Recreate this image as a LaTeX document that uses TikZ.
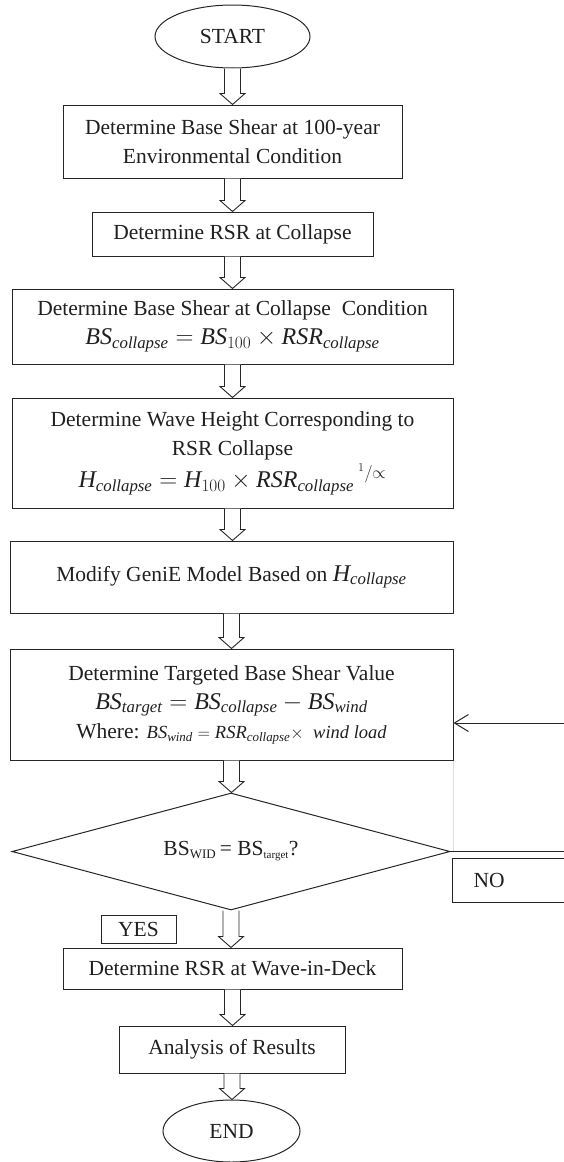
\documentclass[tikz,border=0pt]{standalone}
\usepackage{fontspec}
\setmainfont{Liberation Serif}
\usetikzlibrary{shapes.geometric,arrows.meta,calc}
\newcommand{\mt}[1]{\mathit{#1}}
\newcommand{\fbig}{\fontsize{24}{29}\selectfont}
\begin{document}
\begin{tikzpicture}[x=1pt,y=1pt,
  every node/.style={font=\fontsize{21.5}{29}\selectfont, text=black!88},
  boxnode/.style={draw=black!85, line width=1pt, rectangle, inner sep=0pt, align=center},
  ellnode/.style={draw=black!85, line width=1pt, ellipse, inner sep=0pt},
  decnode/.style={draw=black!85, line width=1pt, diamond, aspect=3.74, inner sep=0pt},
  blk/.style={draw=black!85, line width=0.9pt, fill=white, line join=miter,
    to path={let \p1=(\tikztostart), \p2=(\tikztotarget) in
      (\x1-8pt,\y1) -- (\x1-8pt,\y2+11pt) -- (\x1-12.5pt,\y2+11pt) -- (\x1,\y2)
      -- (\x1+12.5pt,\y2+11pt) -- (\x1+8pt,\y2+11pt) -- (\x1+8pt,\y1)}},
  fb/.style={draw=black!85, line width=1pt, -{Straight Barb[length=14pt,width=17pt,line width=1pt]}}
]
\useasboundingbox (0,0) rectangle (563,-1162);

\node[ellnode, minimum width=155pt, minimum height=63pt] (start) at (232.5,-36.5) {START};
\node[boxnode, minimum width=339pt, minimum height=73pt] (b1) at (232.5,-141.5)
  {Determine Base Shear at 100-year\\ Environmental Condition};
\node[boxnode, minimum width=281pt, minimum height=44pt] (b2) at (232.5,-234)
  {Determine RSR at Collapse};
\node[boxnode, minimum width=441pt, minimum height=75pt] (b3) at (232.5,-326.5)
  {Determine Base Shear at Collapse\ \ Condition\\
   {\fbig$\mt{BS}_{\mt{collapse}} = \mt{BS}_{100}\times \mt{RSR}_{\mt{collapse}}$}};
\node[boxnode, minimum width=441pt, minimum height=110pt] (b4) at (232.5,-453)
  {Determine Wave Height Corresponding to\\ RSR Collapse\\[3pt]
   {\fbig$\mt{H}_{\mt{collapse}} = \mt{H}_{100}\times {\mt{RSR}_{\mt{collapse}}\,}^{{}^{1}/\propto}$}};
\node[boxnode, minimum width=443pt, minimum height=72pt] (b5) at (231.5,-577)
  {\raisebox{7pt}{Modify GeniE Model Based on {\fbig$\mt{H}_{\mt{collapse}}$}}};
\node[boxnode, minimum width=443pt, minimum height=111pt] (b6) at (231.5,-704.5)
  {Determine Targeted Base Shear Value\\
   {\fbig$\mt{BS}_{\mt{target}} = \mt{BS}_{\mt{collapse}} - \mt{BS}_{\mt{wind}}$}\\
   Where: {\fontsize{18.5}{20}\selectfont $\mt{BS}_{\mt{wind}} = \mt{RSR}_{\mt{collapse}}\times$ \textit{ wind load}}};
\node[decnode, minimum width=438pt, minimum height=117pt] (dec) at (231,-851.5)
  {BS\textsubscript{\fontsize{13}{13}\selectfont WID}\,= BS\textsubscript{\fontsize{11}{11}\selectfont target}?};
\node[boxnode, anchor=west, minimum width=130pt, minimum height=44pt, text width=88pt,
  inner xsep=21pt, align=left] (no) at (452,-880) {NO};
\node[boxnode, minimum width=75pt, minimum height=28pt] (yes) at (138.5,-929) {YES};
\node[boxnode, minimum width=339pt, minimum height=41pt] (b7) at (232.5,-968.5)
  {Determine RSR at Wave-in-Deck};
\node[boxnode, minimum width=226pt, minimum height=47pt] (b8) at (232,-1049.5)
  {Analysis of Results};
\node[ellnode, minimum width=137pt, minimum height=62pt] (end) at (231.5,-1131) {END};

\draw[blk] (start.south) to (b1.north);
\draw[blk] (b1.south) to (b2.north);
\draw[blk] (b2.south) to (b3.north);
\draw[blk] (b3.south) to (b4.north);
\draw[blk] (b4.south) to (b5.north);
\draw[blk] (b5.south) to (b6.north);
\draw[blk] (b6.south) to (dec.north);
\draw[blk] (dec.south) to (b7.north);
\draw[blk] (b7.south) to (b8.north);
\draw[blk] (b8.south) to (end.north);

\draw[gray!25, line width=0.6pt] (b6.south east) -- (b6.south east |- dec.east);
\draw[fb] (dec.east) -- (600,-851.5) |- ([yshift=-18.5pt]b6.east);
\end{tikzpicture}
\end{document}
